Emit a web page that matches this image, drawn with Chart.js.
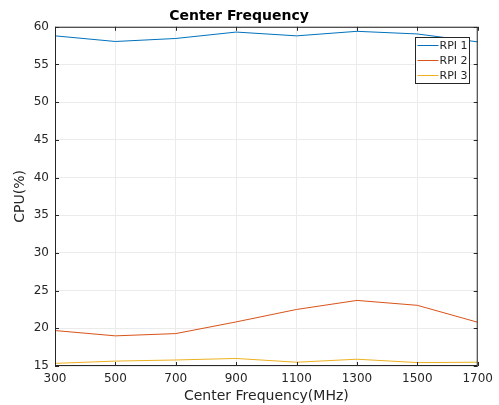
<!DOCTYPE html>
<html><head><meta charset="utf-8">
<script src="https://cdn.jsdelivr.net/npm/chart.js@4/dist/chart.umd.min.js"></script>
<style>html,body{margin:0;padding:0;background:#fff}#wrap{width:499px;height:405px}</style>
</head><body><div id="wrap"><canvas id="c"></canvas></div>
<script>
const frequencies = [300, 500, 700, 900, 1100, 1300, 1500, 1700];
const rpi1 = [58.8, 58.05, 58.45, 59.3, 58.8, 59.4, 59.05, 58.0];
const rpi2 = [19.7, 19.0, 19.3, 20.85, 22.5, 23.7, 23.05, 20.8];
const rpi3 = [15.35, 15.65, 15.8, 16.0, 15.5, 15.9, 15.45, 15.5];
const seriesNames = ['RPI 1', 'RPI 2', 'RPI 3'];
const seriesColors = ['#0072BD', '#D95319', '#EDB120'];
const xTicks = [300, 500, 700, 900, 1100, 1300, 1500, 1700];
const yTicks = [15, 20, 25, 30, 35, 40, 45, 50, 55, 60];

const FONT = 'DejaVu Sans';
const series = [rpi1, rpi2, rpi3];

const boxPlugin = {
  id: 'box',
  afterDatasetsDraw(chart) {
    const {ctx, chartArea: a, scales: {x, y}} = chart;
    ctx.save();
    ctx.strokeStyle = '#262626';
    ctx.lineWidth = 1;
    ctx.strokeRect(a.left + 0.5, a.top + 0.5, a.right - a.left - 1, a.bottom - a.top - 1);
    const tl = 4;
    ctx.beginPath();
    xTicks.forEach(v => {
      const px = Math.round(x.getPixelForValue(v)) + 0.5;
      ctx.moveTo(px, a.bottom); ctx.lineTo(px, a.bottom - tl);
      ctx.moveTo(px, a.top); ctx.lineTo(px, a.top + tl);
    });
    yTicks.forEach(v => {
      const py = Math.round(y.getPixelForValue(v)) + 0.5;
      ctx.moveTo(a.left, py); ctx.lineTo(a.left + tl, py);
      ctx.moveTo(a.right, py); ctx.lineTo(a.right - tl, py);
    });
    ctx.stroke();
    // legend
    const lw = 54, lh = 46;
    const lx = Math.round(a.right - 9 - lw) + 0.5, ly = Math.round(a.top + 10) + 0.5;
    ctx.fillStyle = '#fff';
    ctx.fillRect(lx, ly, lw, lh);
    ctx.strokeStyle = '#262626';
    ctx.strokeRect(lx, ly, lw, lh);
    ctx.font = '11px ' + FONT;
    ctx.textBaseline = 'middle';
    ctx.textAlign = 'left';
    seriesNames.forEach((n, i) => {
      const yy = ly + 8 + i * 15;
      ctx.strokeStyle = seriesColors[i];
      ctx.beginPath(); ctx.moveTo(lx + 2, yy); ctx.lineTo(lx + 23, yy); ctx.stroke();
      ctx.fillStyle = '#262626';
      ctx.fillText(n, lx + 24, yy + 1);
    });
    ctx.restore();
  }
};

new Chart(document.getElementById('c'), {
  type: 'line',
  data: {
    datasets: series.map((s, i) => ({
      label: seriesNames[i],
      data: frequencies.map((f, j) => ({x: f, y: s[j]})),
      borderColor: seriesColors[i],
      borderWidth: 1,
      pointRadius: 0,
      tension: 0,
      fill: false
    }))
  },
  options: {
    responsive: true,
    maintainAspectRatio: false,
    animation: false,
    layout: {padding: {left: 0, right: 21, top: 0, bottom: 0}},
    plugins: {
      legend: {display: false},
      tooltip: {enabled: false},
      title: {display: true, text: 'Center Frequency', color: '#000',
        font: {family: FONT, size: 14, weight: 'bold'}, padding: {top: 8, bottom: 2}}
    },
    scales: {
      x: {
        type: 'linear', min: 300, max: 1700,
        afterBuildTicks: s => { s.ticks = xTicks.map(v => ({value: v})); },
        afterFit: s => { s.height = 39; },
        grid: {color: '#ebebeb', drawTicks: false},
        border: {display: false},
        ticks: {color: '#262626', font: {family: FONT, size: 12}, padding: 6, maxRotation: 0,
          callback: v => String(v)},
        title: {display: true, text: 'Center Frequency(MHz)', color: '#262626',
          font: {family: FONT, size: 14}, padding: {top: 0, bottom: 0}}
      },
      y: {
        min: 15, max: 60,
        afterBuildTicks: s => { s.ticks = yTicks.map(v => ({value: v})); },
        afterFit: s => { s.width = 55; },
        grid: {color: '#ebebeb', drawTicks: false},
        border: {display: false},
        ticks: {color: '#262626', font: {family: FONT, size: 12}, padding: 6,
          callback: v => String(v)},
        title: {display: true, text: 'CPU(%)', color: '#262626',
          font: {family: FONT, size: 14}, padding: {top: 12, bottom: 0}}
      }
    }
  },
  plugins: [boxPlugin]
});
</script></body></html>
